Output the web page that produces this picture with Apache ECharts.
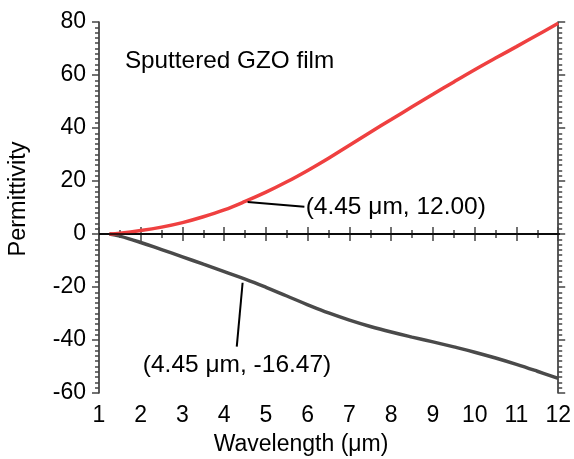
<!DOCTYPE html>
<html>
<head>
<meta charset="utf-8">
<script src="https://cdn.jsdelivr.net/npm/echarts@6/dist/echarts.min.js"></script>
<style>
  html, body { margin: 0; padding: 0; background: #fff; }
  #chart { width: 574px; height: 459px; }
</style>
</head>
<body>
<div id="chart"></div>
<script>
// ---- data ----
const wavelength  = [1.25, 1.5, 2, 2.5, 3, 3.5, 4, 4.5, 5, 5.5, 6, 6.5, 7, 7.5, 8, 8.5, 9, 9.5, 10, 10.5, 11, 11.5, 12];
const upperValues = [0, 0.3, 1.3, 2.6, 4.3, 6.5, 9.1, 12.3, 15.8, 19.7, 24.0, 28.6, 33.5, 38.4, 43.2, 48.0, 52.7, 57.4, 62.0, 66.4, 70.7, 75.1, 79.5];
const lowerValues = [0, -0.8, -3.2, -5.9, -8.6, -11.4, -14.2, -17.0, -20.1, -23.4, -26.7, -29.8, -32.5, -34.9, -37.0, -38.9, -40.7, -42.6, -44.6, -46.8, -49.2, -51.8, -54.5];

const titleText = 'Sputtered GZO film';
const titlePos = [1.62, 65.3];
const upperNote = '(4.45 \u03bcm, 12.00)';
const lowerNote = '(4.45 \u03bcm, -16.47)';
const upperLeader = [[4.56, 12.1], [5.92, 10.3]];
const lowerLeader = [[4.44, -18.4], [4.30, -42.5]];
const upperNotePos = [5.95, 10.0];
const lowerNotePos = [2.05, -49.6];

const xName = 'Wavelength (\u03bcm)';
const yName = 'Permittivity';

// ---- chart ----
const FONT = '"Liberation Sans", Arial, sans-serif';
const chart = echarts.init(document.getElementById('chart'), null, { renderer: 'canvas' });

function pairs(xs, ys) { return xs.map((x, i) => [x, ys[i]]); }

const axisLine = { show: true, lineStyle: { color: '#222', width: 1.5 } };
const tickStyle = { color: '#444', width: 1.5 };

const option = {
  animation: false,
  backgroundColor: '#ffffff',
  grid: { left: 99, right: 14, top: 22, bottom: 66, containLabel: false },
  xAxis: [
    {
      type: 'value', min: 1, max: 12, interval: 1, position: 'bottom',
      axisLine: axisLine,
      axisTick: { show: true, inside: false, length: 7, lineStyle: tickStyle },
      minorTick: { show: true, splitNumber: 2, length: 4, lineStyle: tickStyle },
      splitLine: { show: false },
      axisLabel: { color: '#000', fontSize: 23, fontFamily: FONT, margin: 11 }
    },
    {
      type: 'value', min: 1, max: 12, interval: 1, position: 'top',
      axisLine: axisLine,
      axisTick: { show: true, inside: false, length: 7, lineStyle: tickStyle },
      minorTick: { show: true, splitNumber: 2, length: 4, lineStyle: tickStyle },
      splitLine: { show: false },
      axisLabel: { show: false }
    }
  ],
  yAxis: [
    {
      type: 'value', min: -60, max: 80, interval: 20, position: 'left',
      axisLine: axisLine,
      axisTick: { show: true, inside: false, length: 7, lineStyle: tickStyle },
      minorTick: { show: true, splitNumber: 10, length: 4, lineStyle: tickStyle },
      splitLine: { show: false },
      axisLabel: { color: '#000', fontSize: 23, fontFamily: FONT, margin: 13 }
    },
    {
      type: 'value', min: -60, max: 80, interval: 20, position: 'right',
      axisLine: axisLine,
      axisTick: { show: true, inside: false, length: 7, lineStyle: tickStyle },
      minorTick: { show: true, splitNumber: 10, length: 4, lineStyle: tickStyle },
      splitLine: { show: false },
      axisLabel: { show: false }
    }
  ],
  series: [
    {
      type: 'line', name: 'upper', data: pairs(wavelength, upperValues),
      smooth: 0.4, showSymbol: false, symbol: 'none',
      lineStyle: { color: '#ef4040', width: 3.5 },
      z: 3,
      markLine: {
        silent: true, symbol: 'none', animation: false,
        label: { show: false },
        data: [
          [{ yAxis: 0, x: 99, lineStyle: { color: '#000', width: 1.5, type: 'solid' } },
           { yAxis: 0, x: 560 }],
          [{ coord: upperLeader[0], lineStyle: { color: '#000', width: 2, type: 'solid' } },
           { coord: upperLeader[1] }],
          [{ coord: lowerLeader[0], lineStyle: { color: '#000', width: 2, type: 'solid' } },
           { coord: lowerLeader[1] }]
        ]
      },
      markPoint: {
        silent: true, symbol: 'circle', symbolSize: 0, animation: false,
        label: {
          show: true, position: 'right', distance: 0,
          color: '#000', fontSize: 24.5, fontFamily: FONT,
          formatter: p => p.name
        },
        data: [
          { name: titleText, coord: titlePos, label: { fontSize: 24.3 } },
          { name: upperNote, coord: upperNotePos },
          { name: lowerNote, coord: lowerNotePos }
        ]
      }
    },
    {
      type: 'line', name: 'lower', data: pairs(wavelength, lowerValues),
      smooth: 0.4, showSymbol: false, symbol: 'none',
      lineStyle: { color: '#4a4a4a', width: 3.5 },
      z: 2
    }
  ],
  graphic: [
    {
      type: 'text', x: 301, y: 445,
      style: { text: xName, fill: '#000', fontSize: 23, fontFamily: FONT, align: 'center', verticalAlign: 'middle' }
    },
    {
      type: 'text', x: 19, y: 199, rotation: Math.PI / 2,
      style: { text: yName, fill: '#000', fontSize: 23.5, fontFamily: FONT, align: 'center', verticalAlign: 'middle' }
    }
  ]
};
chart.setOption(option);
</script>
</body>
</html>
